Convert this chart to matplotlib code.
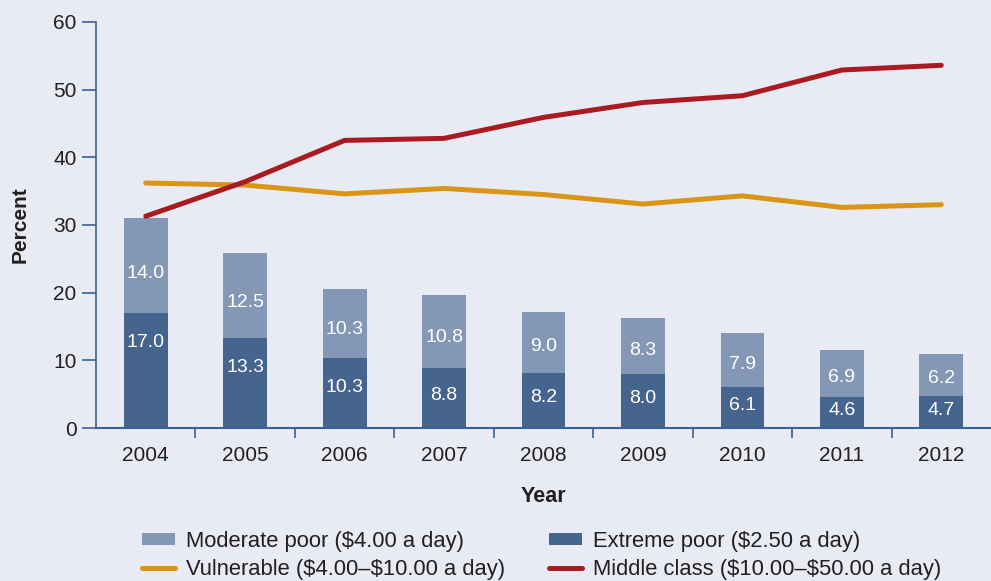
import matplotlib
matplotlib.use("Agg")
import matplotlib.pyplot as plt
import numpy as np
from matplotlib.patches import Patch
from matplotlib.lines import Line2D

years = ["2004", "2005", "2006", "2007", "2008", "2009", "2010", "2011", "2012"]
extreme_poor = [17.0, 13.3, 10.3, 8.8, 8.2, 8.0, 6.1, 4.6, 4.7]
moderate_poor = [14.0, 12.5, 10.3, 10.8, 9.0, 8.3, 7.9, 6.9, 6.2]
vulnerable = [36.2, 35.9, 34.6, 35.4, 34.5, 33.1, 34.3, 32.6, 33.0]
middle_class = [31.3, 36.4, 42.5, 42.8, 45.9, 48.1, 49.1, 52.9, 53.6]
y_ticks = [0, 10, 20, 30, 40, 50, 60]

BG = "#E8EBF3"
C_MOD = "#8497B5"
C_EXT = "#45648E"
C_VUL = "#DA9416"
C_MID = "#A91B21"
C_AX = "#3A6194"
TXT = "#231F20"

plt.rcParams["font.family"] = ["Liberation Sans", "DejaVu Sans"]

fig = plt.figure(figsize=(9.91, 5.81), dpi=100, facecolor=BG)
ax = fig.add_axes([0.0969, 0.2633, 0.9031, 0.6989])
ax.set_facecolor(BG)

x = np.arange(len(years))
w = 0.44
ax.bar(x, extreme_poor, width=w, color=C_EXT, zorder=2)
ax.bar(x, moderate_poor, width=w, bottom=extreme_poor, color=C_MOD, zorder=2)

for i in range(len(years)):
    e = extreme_poor[i]
    m = moderate_poor[i]
    ye = e - min(4.3, e * 0.45)
    ax.text(x[i], ye, f"{e:.1f}", ha="center", va="center", color="white", fontsize=14, zorder=3)
    ym = e + m * 0.42
    ax.text(x[i], ym, f"{m:.1f}", ha="center", va="center", color="white", fontsize=14, zorder=3)

ax.plot(x, vulnerable, color=C_VUL, lw=3.6, solid_capstyle="round", solid_joinstyle="round", zorder=4)
ax.plot(x, middle_class, color=C_MID, lw=3.6, solid_capstyle="round", solid_joinstyle="round", zorder=5)

ax.set_xlim(-0.5, 8.5)
ax.set_ylim(0, 60)
ax.set_yticks(y_ticks)
ax.set_yticklabels([str(t) for t in y_ticks], fontsize=15, color=TXT)
ax.set_xticks(x)
ax.set_xticklabels(years, fontsize=15, color=TXT)
ax.set_xticks(np.arange(0.5, 8, 1.0), minor=True)
ax.tick_params(axis="x", which="major", length=0, pad=13)
ax.tick_params(axis="x", which="minor", length=7, width=1.2, color=C_AX, direction="out")
ax.tick_params(axis="y", which="major", length=10, width=1.2, color=C_AX, pad=4)

for s in ["top", "right"]:
    ax.spines[s].set_visible(False)
ax.spines["left"].set_color(C_AX)
ax.spines["left"].set_linewidth(1.2)
ax.spines["bottom"].set_color(C_AX)
ax.spines["bottom"].set_linewidth(1.5)

ax.set_ylabel("Percent", fontsize=15, fontweight="bold", color=TXT, labelpad=17)
ax.set_xlabel("Year", fontsize=15.5, fontweight="bold", color=TXT, labelpad=15)

handles = [
    Patch(facecolor=C_MOD, edgecolor="none"),
    Line2D([0], [0], color=C_VUL, lw=3.6, solid_capstyle="round"),
    Patch(facecolor=C_EXT, edgecolor="none"),
    Line2D([0], [0], color=C_MID, lw=3.6, solid_capstyle="round"),
]
labels = [
    "Moderate poor (\\$4.00 a day)",
    "Vulnerable (\\$4.00\u2013\\$10.00 a day)",
    "Extreme poor (\\$2.50 a day)",
    "Middle class (\\$10.00\u2013\\$50.00 a day)",
]
fig.legend(handles, labels, ncol=2, loc="lower left", bbox_to_anchor=(0.143, 0.002),
           frameon=False, fontsize=15.8, handlelength=1.5, handleheight=0.5,
           handletextpad=0.5, columnspacing=2.0, labelspacing=0.33, borderpad=0,
           borderaxespad=0, labelcolor=TXT)

fig.savefig("out.png", dpi=100, facecolor=BG)
